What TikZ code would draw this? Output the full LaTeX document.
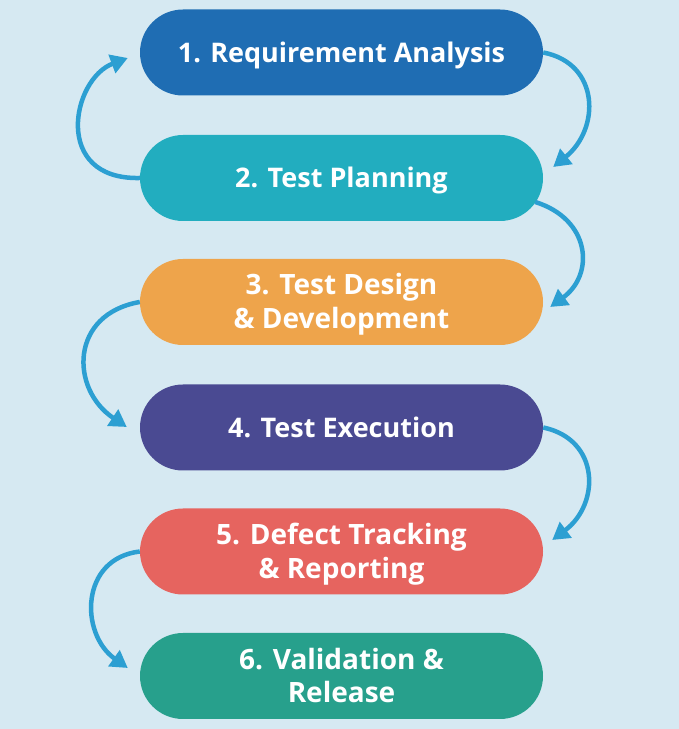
\documentclass[tikz,border=0pt]{standalone}
\usepackage{fontspec}
\setmainfont{Open Sans}
\usetikzlibrary{arrows.meta}
\definecolor{bgc}{HTML}{D6E9F2}
\definecolor{c1}{HTML}{1F6DB3}
\definecolor{c2}{HTML}{22ADBF}
\definecolor{c3}{HTML}{EEA44B}
\definecolor{c4}{HTML}{4A4A92}
\definecolor{c5}{HTML}{E6645F}
\definecolor{c6}{HTML}{27A08C}
\definecolor{arr}{HTML}{2C9FD2}
\tikzset{
  stage/.style={rectangle, rounded corners=43pt, minimum width=403pt, minimum height=86pt,
    inner sep=0pt, text=white, align=center, text height=19.3pt, text depth=0pt,
    font=\bfseries\fontsize{27}{34}\selectfont},
  stagetwo/.style={stage, text height=54pt, text depth=0pt, font=\bfseries\fontsize{28}{34}\selectfont},
  flow/.style={draw=arr, line width=4.5pt, -{Triangle[length=17pt,width=19pt]}}
}
\begin{document}
\begin{tikzpicture}[x=1pt,y=1pt]
\fill[bgc] (0,0) rectangle (679,729);
\useasboundingbox (0,0) rectangle (679,729);
\node[stage, fill=c1] (b1) at (341.5,676.5) {1. Requirement Analysis};
\node[stage, fill=c2] (b2) at (341.5,551) {2. Test Planning};
\node[stagetwo, fill=c3] (b3) at (341.5,427) {3. Test Design\\\& Development};
\node[stage, fill=c4] (b4) at (341.5,301.5) {4. Test Execution};
\node[stagetwo, fill=c5] (b5) at (341.5,177.5) {5. Defect Tracking\\\& Reporting};
\node[stagetwo, fill=c6] (b6) at (341.5,53) {6. Validation \&\\Release};
\draw[flow] (b2.west) .. controls +(-88,-2) and +(-56,-21) .. ([xshift=-12pt,yshift=-5.5pt]b1.west);
\draw[flow] (b1.east) .. controls +(57,-11) and +(47,38) .. ([xshift=10pt,yshift=11pt]b2.east);
\draw[flow] ([xshift=-8pt,yshift=-24pt]b2.east) .. controls +(55,-17) and +(45,33) .. ([xshift=7pt,yshift=-5pt]b3.east);
\draw[flow] (b3.west) .. controls +(-70,-12) and +(-57,38) .. ([xshift=-13pt,yshift=0.5pt]b4.west);
\draw[flow] (b4.east) .. controls +(57,-12) and +(48,36) .. ([xshift=9pt,yshift=11.5pt]b5.east);
\draw[flow] (b5.west) .. controls +(-60,-7) and +(-48,34) .. ([xshift=-12pt,yshift=8pt]b6.west);
\end{tikzpicture}
\end{document}
